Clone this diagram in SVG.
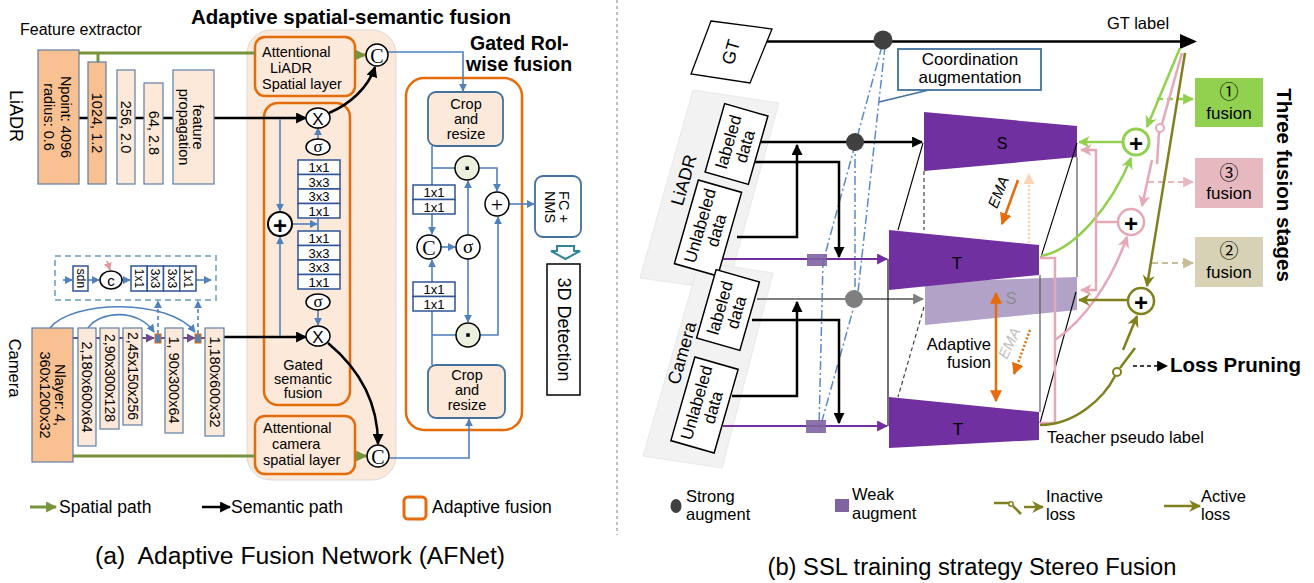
<svg xmlns="http://www.w3.org/2000/svg" width="1314" height="583" viewBox="0 0 1314 583">
<defs>
<style>
text{font-family:"Liberation Sans",Arial,Helvetica,sans-serif;fill:#000}
.c{text-anchor:middle;dominant-baseline:central}
.m{text-anchor:middle}
.f14{font-size:14.5px}
.f13{font-size:13px}
.f12{font-size:12px}
.ob{fill:#F9C192;stroke:#5F7FA6;stroke-width:1.2}
.lb{fill:#FDE9D9;stroke:#5F7FA6;stroke-width:1.2}
.cell{fill:#fff;stroke:#2F5597;stroke-width:1.5}
.af{fill:#FDE9D9;stroke:#E46C0A;stroke-width:2.5}
.bl{fill:none;stroke:#4F81BD;stroke-width:1.6}
.bk{fill:none;stroke:#000;stroke-width:2.5}
.gr{fill:none;stroke:#77933C;stroke-width:3}
.op{fill:#fff;stroke:#000;stroke-width:1.5}
.ser{font-family:"Liberation Serif","Times New Roman",serif}
.crop{fill:#FDE9D9;stroke:#41719C;stroke-width:1.8}
.dot{fill:#EBF1DE;stroke:#000;stroke-width:1.5}
.dd{fill:none;stroke:#5B8BC9;stroke-width:1.5;stroke-dasharray:9 3 2 3}
.thin{fill:none;stroke:#000;stroke-width:1.1}
.gline{fill:none;stroke:#595959;stroke-width:1.2}
.trap{fill:#7030A0}
.data{fill:#fff;stroke:#000;stroke-width:1.5}
.pk{fill:none;stroke:#E6A8B7;stroke-width:2.5}
.lg{fill:none;stroke:#92D050;stroke-width:2.5}
.ol{fill:none;stroke:#80801E;stroke-width:2.5}
</style>
<marker id="mB" viewBox="0 0 10 10" refX="9" refY="5" markerWidth="8" markerHeight="8" markerUnits="userSpaceOnUse" orient="auto-start-reverse"><path d="M0,0L10,5L0,10z" fill="#4F81BD"/></marker>
<marker id="mK" viewBox="0 0 10 10" refX="9" refY="5" markerWidth="11" markerHeight="11" markerUnits="userSpaceOnUse" orient="auto-start-reverse"><path d="M0,0L10,5L0,10z" fill="#000"/></marker>
<marker id="mG" viewBox="0 0 10 10" refX="9" refY="5" markerWidth="11" markerHeight="11" markerUnits="userSpaceOnUse" orient="auto-start-reverse"><path d="M0,0L10,5L0,10z" fill="#77933C"/></marker>
<marker id="mP" viewBox="0 0 10 10" refX="9" refY="5" markerWidth="11" markerHeight="11" markerUnits="userSpaceOnUse" orient="auto-start-reverse"><path d="M0,0L10,5L0,10z" fill="#7030A0"/></marker>
<marker id="mGy" viewBox="0 0 10 10" refX="9" refY="5" markerWidth="11" markerHeight="11" markerUnits="userSpaceOnUse" orient="auto-start-reverse"><path d="M0,0L10,5L0,10z" fill="#7F7F7F"/></marker>
<marker id="mLG" viewBox="0 0 10 10" refX="9" refY="5" markerWidth="12" markerHeight="12" markerUnits="userSpaceOnUse" orient="auto-start-reverse"><path d="M0,0L10,5L0,10L3,5z" fill="#92D050"/></marker>
<marker id="mPk" viewBox="0 0 10 10" refX="9" refY="5" markerWidth="12" markerHeight="12" markerUnits="userSpaceOnUse" orient="auto-start-reverse"><path d="M0,0L10,5L0,10L3,5z" fill="#E6A8B7"/></marker>
<marker id="mOl" viewBox="0 0 10 10" refX="9" refY="5" markerWidth="12" markerHeight="12" markerUnits="userSpaceOnUse" orient="auto-start-reverse"><path d="M0,0L10,5L0,10L3,5z" fill="#80801E"/></marker>
<marker id="mOr" viewBox="0 0 10 10" refX="9" refY="5" markerWidth="12" markerHeight="12" markerUnits="userSpaceOnUse" orient="auto-start-reverse"><path d="M0,0L10,5L0,10z" fill="#E46C0A"/></marker>
<marker id="mPe" viewBox="0 0 10 10" refX="9" refY="5" markerWidth="11" markerHeight="11" markerUnits="userSpaceOnUse" orient="auto-start-reverse"><path d="M0,0L10,5L0,10z" fill="#FBD4B4"/></marker>
<marker id="mCP" viewBox="0 0 10 10" refX="9" refY="5" markerWidth="9" markerHeight="9" markerUnits="userSpaceOnUse" orient="auto-start-reverse"><path d="M0,0L10,5L0,10z" fill="#6B4C8F"/></marker>
<marker id="mPkL" viewBox="0 0 10 10" refX="9" refY="5" markerWidth="11" markerHeight="11" markerUnits="userSpaceOnUse" orient="auto-start-reverse"><path d="M0,0L10,5L0,10z" fill="#E6B9C0"/></marker>
<marker id="mLGd" viewBox="0 0 10 10" refX="9" refY="5" markerWidth="11" markerHeight="11" markerUnits="userSpaceOnUse" orient="auto-start-reverse"><path d="M0,0L10,5L0,10z" fill="#92D050"/></marker>
<marker id="mBg" viewBox="0 0 10 10" refX="9" refY="5" markerWidth="11" markerHeight="11" markerUnits="userSpaceOnUse" orient="auto-start-reverse"><path d="M0,0L10,5L0,10z" fill="#C4BD97"/></marker>
<marker id="mPs" viewBox="0 0 10 10" refX="9" refY="5" markerWidth="8" markerHeight="8" markerUnits="userSpaceOnUse" orient="auto-start-reverse"><path d="M0,0L10,5L0,10z" fill="#E09A9A"/></marker>
</defs>

<!-- ===== Backgrounds (a) ===== -->
<g id="panel-adaptive">
<rect x="247" y="30" width="149" height="450" rx="24" fill="#FDE9D9" stroke="#D9D9D9" stroke-width="1"/>
<text x="191" y="24" font-size="20.5" font-weight="bold">Adaptive spatial-semantic fusion</text>
</g>
<g id="att-lidar-box"><rect class="af" x="255" y="37" width="100" height="59" rx="10"/></g>
<g id="att-camera-box"><rect class="af" x="255" y="416" width="100" height="58" rx="10"/></g>
<g id="gated-semantic-box"><rect class="af" x="264" y="103" width="86" height="302" rx="14"/></g>
<g id="gated-roi-box">
<rect x="406" y="78" width="116" height="352" rx="18" fill="#fff" stroke="#E46C0A" stroke-width="2.5"/>
<text x="470" y="50" font-size="19.5" font-weight="bold">Gated RoI-</text>
<text x="466" y="71" font-size="19.5" font-weight="bold">wise fusion</text>
</g>
<g id="camera-block-box"><rect x="55" y="256" width="161" height="44" fill="none" stroke="#8DB4CA" stroke-width="2" stroke-dasharray="6 4"/></g>

<!-- ===== Backgrounds (b) ===== -->
<g id="panels-b">
<polygon points="693,90 779,103 727,290 640,278" fill="#F2F2F2" stroke="#E3E3E3" stroke-width="0.8"/>
<polygon points="699,262 773,273 722,468 643,456" fill="#F2F2F2" stroke="#E3E3E3" stroke-width="0.8"/>
</g>
<g id="trapezoids">
<polygon points="925,282 1077,277 1077,310 925,325" fill="#B3A2C7"/>
<polygon class="trap" points="924,112 1077,126 1077,157 924,171"/>
<polygon class="trap" points="889,230 1039,245 1039,275 889,290"/>
<polygon class="trap" points="889,397 1039,412 1039,440 889,448"/>
<text class="c" x="1002" y="143" font-size="16">S</text>
<text class="c" x="957" y="263" font-size="17">T</text>
<text class="c" x="1011" y="298" font-size="16" style="fill:#8C8C8C">S</text>
<text class="c" x="958" y="429" font-size="17">T</text>
</g>

<!-- ===== Connectors ===== -->
<g id="connectors">
<!-- (a) -->
<path class="gr" d="M79,53 H255"/>
<path class="gr" d="M98,53 V62"/>
<path class="gr" d="M355,55 H365" marker-end="url(#mG)"/>
<path class="gr" d="M73,456 H255"/>
<path class="gr" d="M355,456 H366" marker-end="url(#mG)"/>
<path class="bk" d="M79,118 H306" marker-end="url(#mK)"/>
<path class="bk" d="M224,337 H306" marker-end="url(#mK)"/>
<path class="bk" d="M329,113 C350,104 368,88 375,67" marker-end="url(#mK)"/>
<path class="bk" d="M328,343 C358,368 378,400 378,444" marker-end="url(#mK)"/>
<path class="bl" d="M318,139 V128" marker-end="url(#mB)"/>
<path class="bl" d="M280,119 V211" marker-end="url(#mB)"/>
<path class="bl" d="M292,224 H317" marker-end="url(#mB)"/>
<path class="bl" d="M318,218 V231"/>
<path class="bl" d="M318,310 V325" marker-end="url(#mB)"/>
<path class="bl" d="M280,336 V237" marker-end="url(#mB)"/>
<path class="bl" d="M388,52 H463 V91" marker-end="url(#mB)"/>
<path class="bl" d="M389,458 H469 V419" marker-end="url(#mB)"/>
<path class="bl" d="M432,146 V234" marker-end="url(#mB)"/>
<path class="bl" d="M432,168 H455"/>
<path class="bl" d="M479,168 H497 V191" marker-end="url(#mB)"/>
<path class="bl" d="M441,247 H455" marker-end="url(#mB)"/>
<path class="bl" d="M468,235 V181" marker-end="url(#mB)"/>
<path class="bl" d="M468,259 V322" marker-end="url(#mB)"/>
<path class="bl" d="M432,365 V260" marker-end="url(#mB)"/>
<path class="bl" d="M432,335 H456"/>
<path class="bl" d="M480,335 H498 V217" marker-end="url(#mB)"/>
<path class="bl" d="M509,204 H534" marker-end="url(#mB)"/>
<path class="bl" d="M63,280 H72" marker-end="url(#mB)"/>
<path class="bl" d="M88,280 H99" marker-end="url(#mB)"/>
<path class="bl" d="M122,280 H130" marker-end="url(#mB)"/>
<path class="bl" d="M196,280 H211" marker-end="url(#mB)"/>
<path d="M107,261 L110,270" stroke="#E09A9A" stroke-width="1.8" fill="none" marker-end="url(#mPs)"/>
<path d="M73,338 H154" stroke="#6B4C8F" stroke-width="2" fill="none" marker-end="url(#mCP)"/>
<path d="M161,338 H195" stroke="#6B4C8F" stroke-width="2" fill="none" marker-end="url(#mCP)"/>
<path d="M201,338 H205" stroke="#6B4C8F" stroke-width="2" fill="none"/>
<path class="bl" d="M50,328 C72,300 168,298 195,332" marker-end="url(#mB)"/>
<path class="bl" d="M88,328 C100,311 138,308 154,332" marker-end="url(#mB)"/>
<path class="bl" d="M158,334 V301" stroke-dasharray="4 3" marker-end="url(#mB)"/>
<path class="bl" d="M198,334 V301" stroke-dasharray="4 3" marker-end="url(#mB)"/>
<!-- (b) -->
<path d="M765,41.5 H1181" stroke="#000" stroke-width="2.5" fill="none"/>
<polygon points="1180,34 1197,41.5 1180,49" fill="#000"/>
<path d="M933,89 L879,102" stroke="#41719C" stroke-width="1.5" fill="none"/>
<path class="dd" d="M882,46 L823,262 L819,428"/>
<path class="dd" d="M855,142 L855,298"/>
<path class="dd" d="M885,46 L858,292 L820,428"/>
<path class="bk" d="M760,142 H922" stroke-width="2" marker-end="url(#mK)"/>
<path class="bk" d="M755,162 H839 V257" stroke-width="2" marker-end="url(#mK)"/>
<path class="bk" d="M737,237 H797 V145" stroke-width="2" marker-end="url(#mK)"/>
<path d="M723,259 H887" stroke="#7030A0" stroke-width="2" fill="none" marker-end="url(#mP)"/>
<path d="M757,299 H923" stroke="#7F7F7F" stroke-width="2" fill="none" marker-end="url(#mGy)"/>
<path class="bk" d="M752,320 H839 V423" stroke-width="2" marker-end="url(#mK)"/>
<path class="bk" d="M732,396 H797 V302" stroke-width="2" marker-end="url(#mK)"/>
<path d="M723,426 H887" stroke="#7030A0" stroke-width="2" fill="none" marker-end="url(#mP)"/>
<path class="thin" d="M888,259 V426"/>
<path class="thin" d="M898,230 L923,143"/>
<path d="M924,171 V230" stroke="#404040" stroke-width="1.2" stroke-dasharray="4 3" fill="none"/>
<path d="M924,307 L898,397" stroke="#404040" stroke-width="1.2" stroke-dasharray="4 3" fill="none"/>
<path class="thin" d="M1077,143 L1041,257"/>
<path class="gline" d="M1077,157 V277"/>
<path class="thin" d="M1076,292 L1040,423"/>
<path class="gline" d="M1040,275 V412"/>
<path d="M1018,180 L1002,224" stroke="#E46C0A" stroke-width="2.5" fill="none" marker-end="url(#mOr)"/>
<path d="M1029,243 V174" stroke="#FBD4B4" stroke-width="2.5" stroke-dasharray="2 2" fill="none" marker-end="url(#mPe)"/>
<path d="M996,293 V401" stroke="#E46C0A" stroke-width="2.5" fill="none" marker-start="url(#mOr)" marker-end="url(#mOr)"/>
<path d="M1030,330 L1014,374" stroke="#E46C0A" stroke-width="2.5" stroke-dasharray="2 2" fill="none" marker-end="url(#mOr)"/>
<path class="lg" d="M1180,48 L1147,127" marker-end="url(#mLG)"/>
<path class="lg" d="M1122,142 H1079" marker-end="url(#mLG)"/>
<path class="lg" d="M1157,99 H1193" stroke-dasharray="6 4" stroke-width="2" marker-end="url(#mLGd)"/>
<path class="lg" d="M1041,256 C1075,250 1112,205 1131,158" marker-end="url(#mLG)"/>
<path class="pk" d="M1182,53 L1162,124"/>
<circle cx="1160" cy="128" r="4" fill="#fff" stroke="#E6A8B7" stroke-width="2"/>
<path class="pk" d="M1159,132 L1157,164"/>
<path class="pk" d="M1152,160 L1142,206" marker-end="url(#mPk)"/>
<path d="M1148,182 H1193" stroke="#E6B9C0" stroke-width="2" stroke-dasharray="6 4" fill="none" marker-end="url(#mPkL)"/>
<path class="pk" d="M1118,222 H1096"/>
<path class="pk" d="M1096,150 V290"/>
<path class="pk" d="M1097,150 H1081" marker-end="url(#mPk)"/>
<path class="pk" d="M1097,290 H1081" marker-end="url(#mPk)"/>
<path class="pk" d="M1040,258 H1055 V423 H1040"/>
<path class="pk" d="M1055,340 C1085,320 1112,280 1127,237" stroke-width="2" marker-end="url(#mPk)"/>
<path class="ol" d="M1185,53 L1147,286" stroke-width="2" marker-end="url(#mOl)"/>
<path d="M1152,263 H1193" stroke="#C4BD97" stroke-width="2" stroke-dasharray="6 4" fill="none" marker-end="url(#mBg)"/>
<path class="ol" d="M1127,300 H1079" marker-end="url(#mOl)"/>
<path class="ol" d="M1040,425 C1075,425 1104,398 1115,376"/>
<circle cx="1117" cy="372" r="4" fill="#fff" stroke="#80801E" stroke-width="2"/>
<path class="ol" d="M1120,368 L1135,348"/>
<path class="ol" d="M1123,350 L1137,316" marker-end="url(#mOl)"/>
<path d="M1133,366 H1167" stroke="#000" stroke-width="1.3" stroke-dasharray="4 3" fill="none" marker-end="url(#mK)"/>
</g>

<!-- ===== Nodes (a) ===== -->
<g id="feature-extractor">
<text x="20" y="35" font-size="16">Feature extractor</text>
<text class="c" font-size="18" transform="translate(16,116) rotate(90)">LiADR</text>
<text class="c" font-size="16.5" transform="translate(15,368) rotate(90)">Camera</text>
</g>
<g id="n-npoint"><rect class="ob" x="38" y="50" width="41" height="134"/><text class="c f14" transform="translate(66,117) rotate(90)">Npoint: 4096</text><text class="c f14" transform="translate(49,117) rotate(90)">radius: 0.6</text></g>
<g id="n-1024"><rect class="ob" x="88" y="62" width="18" height="122"/><text class="c f14" transform="translate(97,123) rotate(90)">1024, 1.2</text></g>
<g id="n-256"><rect class="lb" x="117" y="70" width="18" height="114"/><text class="c f14" transform="translate(126,127) rotate(90)">256, 2.0</text></g>
<g id="n-64"><rect class="lb" x="144" y="83" width="19" height="101"/><text class="c f14" transform="translate(153.5,133) rotate(90)">64, 2.8</text></g>
<g id="n-fp"><rect class="lb" x="173" y="70" width="41" height="114"/><text class="c f14" transform="translate(198,127) rotate(90)">feature</text><text class="c f14" transform="translate(184,127) rotate(90)">propagation</text></g>

<g id="n-nlayer"><rect class="ob" x="32" y="328" width="41" height="134"/><text class="c f14" transform="translate(60,395) rotate(90)">Nlayer: 4,</text><text class="c f14" transform="translate(45,395) rotate(90)">360x1200x32</text></g>
<g id="n-cam1"><rect class="lb" x="78" y="328" width="18" height="118"/><text class="c f14" transform="translate(87,387) rotate(90)">2,180x600x64</text></g>
<g id="n-cam2"><rect class="lb" x="100" y="328" width="19" height="101"/><text class="c" font-size="14" transform="translate(109.5,378) rotate(90)">2,90x300x128</text></g>
<g id="n-cam3"><rect class="lb" x="123" y="328" width="19" height="97"/><text class="c" font-size="14" transform="translate(132.5,376) rotate(90)">2,45x150x256</text></g>
<g id="n-cam4"><rect class="lb" x="165" y="328" width="18" height="105"/><text class="c f14" transform="translate(174,380) rotate(90)">1, 90x300x64</text></g>
<g id="n-cam5"><rect class="lb" x="205" y="328" width="19" height="108"/><text class="c f14" transform="translate(214.5,382) rotate(90)">1,180x600x32</text></g>
<g id="n-squares"><rect x="155" y="334" width="6" height="9" fill="#4F81BD" stroke="#E46C0A" stroke-width="1"/><rect x="195" y="334" width="6" height="9" fill="#4F81BD" stroke="#E46C0A" stroke-width="1"/></g>
<g id="n-cam-block">
<rect class="cell" x="73" y="266" width="15" height="25"/><text class="c f12" transform="translate(80.5,278.5) rotate(90)">sdn</text>
<ellipse class="op" cx="111" cy="280" rx="11" ry="9"/><text class="c" x="111" y="280" font-size="15">c</text>
<rect class="cell" x="131" y="266" width="16.25" height="25"/><text class="c f12" transform="translate(139,278.5) rotate(90)">1x1</text>
<rect class="cell" x="147.25" y="266" width="16.25" height="25"/><text class="c f12" transform="translate(155.4,278.5) rotate(90)">3x3</text>
<rect class="cell" x="163.5" y="266" width="16.25" height="25"/><text class="c f12" transform="translate(171.6,278.5) rotate(90)">3x3</text>
<rect class="cell" x="179.75" y="266" width="16.25" height="25"/><text class="c f12" transform="translate(187.9,278.5) rotate(90)">1x1</text>
</g>

<g id="att-lidar-text" class="f14"><text x="262" y="57">Attentional</text><text x="270" y="73">LiADR</text><text x="262" y="89">Spatial layer</text></g>
<g id="att-camera-text" class="f14"><text x="263" y="433">Attentional</text><text x="272" y="449">camera</text><text x="263" y="465">spatial layer</text></g>
<g id="concat-top"><circle class="op" cx="377" cy="55" r="11"/><text class="c ser" x="377" y="56" font-size="20">C</text></g>
<g id="concat-bottom"><circle class="op" cx="378" cy="456" r="11"/><text class="c ser" x="378" y="457" font-size="20">C</text></g>

<g id="gated-semantic">
<ellipse class="op" cx="318" cy="118" rx="12" ry="10"/><text class="c" x="318" y="119" font-size="17">X</text>
<ellipse class="op" cx="318" cy="147" rx="12" ry="8"/><text class="c ser" x="318" y="146" font-size="17">σ</text>
<rect class="cell" x="298" y="160" width="42" height="14.5"/><text class="c f13" x="319" y="167.5">1x1</text>
<rect class="cell" x="298" y="174.5" width="42" height="14.5"/><text class="c f13" x="319" y="182">3x3</text>
<rect class="cell" x="298" y="189" width="42" height="14.5"/><text class="c f13" x="319" y="196.5">3x3</text>
<rect class="cell" x="298" y="203.5" width="42" height="14.5"/><text class="c f13" x="319" y="211">1x1</text>
<circle cx="280" cy="224" r="12" fill="#fff" stroke="#000" stroke-width="2"/><text class="c" x="280" y="225" font-size="24" font-weight="bold">+</text>
<rect class="cell" x="298" y="231" width="42" height="14.5"/><text class="c f13" x="319" y="238.5">1x1</text>
<rect class="cell" x="298" y="245.5" width="42" height="14.5"/><text class="c f13" x="319" y="253">3x3</text>
<rect class="cell" x="298" y="260" width="42" height="14.5"/><text class="c f13" x="319" y="267.5">3x3</text>
<rect class="cell" x="298" y="274.5" width="42" height="14.5"/><text class="c f13" x="319" y="282">1x1</text>
<ellipse class="op" cx="318" cy="302" rx="12" ry="8"/><text class="c ser" x="318" y="301" font-size="17">σ</text>
<ellipse class="op" cx="318" cy="336" rx="12" ry="10"/><text class="c" x="318" y="337" font-size="17">X</text>
<text class="m f14" x="303" y="370">Gated</text><text class="m f14" x="303" y="384">semantic</text><text class="m f14" x="303" y="398">fusion</text>
</g>

<g id="gated-roi">
<rect class="crop" x="428" y="92" width="75" height="54" rx="8"/>
<text class="m f14" x="466" y="109">Crop</text><text class="m f14" x="466" y="124">and</text><text class="m f14" x="466" y="139">resize</text>
<rect class="crop" x="428" y="365" width="77" height="53" rx="8"/>
<text class="m f14" x="467" y="380">Crop</text><text class="m f14" x="467" y="395">and</text><text class="m f14" x="467" y="410">resize</text>
<rect class="cell" x="413" y="185" width="42" height="14.5"/><text class="c f13" x="434" y="192.5">1x1</text>
<rect class="cell" x="413" y="199.5" width="42" height="14.5"/><text class="c f13" x="434" y="207">1x1</text>
<rect class="cell" x="413" y="282" width="42" height="14.5"/><text class="c f13" x="434" y="289.5">1x1</text>
<rect class="cell" x="413" y="296.5" width="42" height="14.5"/><text class="c f13" x="434" y="304">1x1</text>
<circle class="dot" cx="467" cy="168" r="12"/><rect x="465.5" y="166.5" width="3.5" height="3.5" fill="#000"/>
<circle class="dot" cx="468" cy="335" r="12"/><rect x="466.3" y="333.3" width="3.5" height="3.5" fill="#000"/>
<circle class="op" cx="429" cy="247" r="12"/><text class="c ser" x="429" y="248" font-size="20">C</text>
<circle class="op" cx="468" cy="247" r="12"/><text class="c ser" x="468" y="246" font-size="19">σ</text>
<circle class="op" cx="497" cy="204" r="12"/><text class="c ser" x="497" y="204" font-size="22">+</text>
</g>
<g id="fc-nms"><rect x="535" y="176" width="46" height="61" rx="8" fill="#fff" stroke="#41719C" stroke-width="1.8"/><text class="c" font-size="14.5" transform="translate(564,207) rotate(90)">FC +</text><text class="c" font-size="14.5" transform="translate(550,207) rotate(90)">NMS</text></g>
<g id="down-arrow"><path d="M557,246 H574 V251 H580 L565.5,259 L551,251 H557 Z" fill="#fff" stroke="#31859C" stroke-width="2"/></g>
<g id="detection"><rect x="547" y="264" width="33" height="131" fill="#fff" stroke="#000" stroke-width="1.5"/><text class="c" font-size="18" transform="translate(563.5,329.5) rotate(90)">3D Detection</text></g>

<g id="legend-a">
<path class="gr" d="M30,507 H56" stroke-width="2.5" marker-end="url(#mG)"/>
<text x="59" y="513" font-size="17.5">Spatial path</text>
<path class="bk" d="M202,507 H230" stroke-width="2" marker-end="url(#mK)"/>
<text x="231" y="513" font-size="17.5">Semantic path</text>
<rect x="404" y="497" width="22" height="22" rx="4" fill="none" stroke="#E46C0A" stroke-width="3"/>
<text x="432" y="513" font-size="17.5">Adaptive fusion</text>
</g>
<g id="caption-a"><text class="m" x="300" y="564" font-size="23" textLength="410" lengthAdjust="spacingAndGlyphs" xml:space="preserve">(a)  Adaptive Fusion Network (AFNet)</text></g>

<line x1="617" y1="0" x2="617" y2="535" stroke="#808080" stroke-width="1" stroke-dasharray="3 3"/>

<!-- ===== Nodes (b) ===== -->
<g id="gt"><polygon points="711,21 772,29 750,83 691,74" fill="#fff" stroke="#000" stroke-width="1.3"/><text class="c" font-size="18" transform="translate(731,52) rotate(-74)">GT</text></g>
<g id="gt-label"><text x="1107" y="29" font-size="16.5">GT label</text></g>
<g id="coord-aug"><rect x="898" y="49" width="143" height="41" fill="#fff" stroke="#41719C" stroke-width="1.8"/><text class="m" x="970" y="65" font-size="17">Coordination</text><text class="m" x="970" y="83" font-size="17">augmentation</text></g>
<g id="strong-dots"><circle cx="883" cy="40" r="9.5" fill="#404040"/><circle cx="855" cy="142" r="9" fill="#404040"/><circle cx="854" cy="299" r="9" fill="#7F7F7F"/></g>
<g id="weak-squares"><rect x="807" y="254" width="20" height="12" fill="#8064A2" opacity="0.9"/><rect x="806" y="420" width="20" height="13" fill="#8064A2" opacity="0.9"/></g>
<g id="lidar-panel-label"><text class="c" font-size="18" transform="translate(684,180) rotate(-74)">LiADR</text></g>
<g id="camera-panel-label"><text class="c" font-size="18" transform="translate(682,353) rotate(-74)">Camera</text></g>
<g id="lidar-labeled" transform="translate(736.5,144) rotate(-74)"><rect class="data" x="-35.5" y="-22.5" width="71" height="45"/><text class="c" y="-8" font-size="17">labeled</text><text class="c" y="9" font-size="17">data</text></g>
<g id="lidar-unlabeled" transform="translate(708,228) rotate(-74)"><rect class="data" x="-43.5" y="-22.5" width="87" height="45"/><text class="c" y="-8" font-size="17">Unlabeled</text><text class="c" y="9" font-size="17">data</text></g>
<g id="camera-labeled" transform="translate(728,310) rotate(-74)"><rect class="data" x="-35.5" y="-22.5" width="71" height="45"/><text class="c" y="-8" font-size="17">labeled</text><text class="c" y="9" font-size="17">data</text></g>
<g id="camera-unlabeled" transform="translate(704.5,405) rotate(-74)"><rect class="data" x="-43.5" y="-22.5" width="87" height="45"/><text class="c" y="-8" font-size="17">Unlabeled</text><text class="c" y="9" font-size="17">data</text></g>

<g id="ema-labels">
<text class="c" font-size="15" font-style="italic" transform="translate(998,192) rotate(-68)">EMA</text>
<text class="c" font-size="15" font-style="italic" transform="translate(1009,343) rotate(-65)" style="fill:#BFBFBF">EMA</text>
<text x="991" y="350" font-size="16.5" text-anchor="end">Adaptive</text>
<text x="991" y="368" font-size="16.5" text-anchor="end">fusion</text>
</g>
<g id="sum-green"><circle cx="1136" cy="142" r="13" fill="#fff" stroke="#92D050" stroke-width="3"/><text class="c" x="1136" y="143" font-size="24" font-weight="bold">+</text></g>
<g id="sum-pink"><circle cx="1131" cy="222" r="13" fill="#fff" stroke="#E6A8B7" stroke-width="2.5"/><text class="c" x="1131" y="223" font-size="24" font-weight="bold">+</text></g>
<g id="sum-olive"><circle cx="1141" cy="301" r="13" fill="#fff" stroke="#80801E" stroke-width="2.5"/><text class="c" x="1141" y="302" font-size="24" font-weight="bold">+</text></g>
<g id="fusion-1"><rect x="1195" y="78" width="68" height="49" fill="#92D050"/><text class="c" x="1229" y="90" font-size="19" style="font-family:'Noto Sans CJK SC','DejaVu Sans',sans-serif">①</text><text class="m" x="1229" y="119" font-size="17">fusion</text></g>
<g id="fusion-3"><rect x="1195" y="158" width="68" height="50" fill="#E6B9C1"/><text class="c" x="1229" y="171" font-size="19" style="font-family:'Noto Sans CJK SC','DejaVu Sans',sans-serif">③</text><text class="m" x="1229" y="199" font-size="17">fusion</text></g>
<g id="fusion-2"><rect x="1195" y="237" width="68" height="50" fill="#D7D2B5"/><text class="c" x="1229" y="249" font-size="19" style="font-family:'Noto Sans CJK SC','DejaVu Sans',sans-serif">②</text><text class="m" x="1229" y="278" font-size="17">fusion</text></g>
<g id="three-stages"><text class="c" font-size="20.5" font-weight="bold" transform="translate(1284,185) rotate(90)">Three fusion stages</text></g>
<g id="loss-pruning"><text x="1170" y="372" font-size="20.5" font-weight="bold">Loss Pruning</text></g>
<g id="teacher-label"><text x="1047" y="443" font-size="16.5">Teacher pseudo label</text></g>

<g id="legend-b">
<ellipse cx="676" cy="506" rx="5.5" ry="7" fill="#404040"/>
<text x="686" y="502" font-size="16.5">Strong</text><text x="686" y="520" font-size="16.5">augment</text>
<rect x="835" y="499" width="14" height="13" fill="#8064A2"/>
<text x="852" y="500" font-size="16.5">Weak</text><text x="852" y="519" font-size="16.5">augment</text>
<path class="ol" d="M994,503 H1009" stroke-width="2"/>
<circle cx="1011" cy="504" r="2.2" fill="#fff" stroke="#80801E" stroke-width="1.5"/>
<path class="ol" d="M1013,506 L1021,514" stroke-width="2"/>
<path class="ol" d="M1024,507 H1043" stroke-width="2" marker-end="url(#mOl)"/>
<text x="1046" y="502" font-size="16.5">Inactive</text><text x="1046" y="520" font-size="16.5">loss</text>
<path class="ol" d="M1164,506 H1200" stroke-width="2.5" marker-end="url(#mOl)"/>
<text x="1201" y="502" font-size="16.5">Active</text><text x="1201" y="520" font-size="16.5">loss</text>
</g>
<g id="caption-b"><text class="m" x="972" y="575" font-size="23" textLength="409" lengthAdjust="spacingAndGlyphs">(b) SSL training strategy Stereo Fusion</text></g>
</svg>
